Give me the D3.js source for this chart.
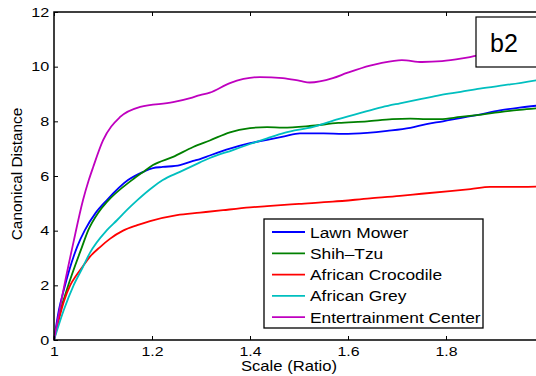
<!DOCTYPE html>
<html>
<head>
<meta charset="utf-8">
<script src="https://cdn.jsdelivr.net/npm/d3@7"></script>
<style>
  body { margin: 0; background: #fff; }
  svg { display: block; }
  text { font-family: "Liberation Sans", Arial, Helvetica, sans-serif; fill: #000; }
</style>
</head>
<body>
<svg id="chart" width="536" height="376"></svg>
<script>
// series names + matlab-ish colours
const seriesNames = ['Lawn Mower', 'Shih\u2013Tzu', 'African Crocodile', 'African Grey', 'Entertrainment Center'];
const seriesColors = ['#0000ff', '#008000', '#ff0000', '#00bfbf', '#bf00bf'];

const xTicks = [1, 1.2, 1.4, 1.6, 1.8];
const yTicks = [0, 2, 4, 6, 8, 10, 12];

// [scale ratio, canonical distance]
const lawnMower = [
  [1, 0], [1.01, 1.1], [1.02, 1.83], [1.047, 3.4], [1.063, 4.02], [1.085, 4.65], [1.108, 5.12],
  [1.151, 5.85], [1.182, 6.15], [1.202, 6.29], [1.222, 6.33], [1.257, 6.4], [1.284, 6.55],
  [1.298, 6.62], [1.318, 6.75], [1.359, 7.0], [1.40, 7.2], [1.435, 7.32], [1.47, 7.45],
  [1.502, 7.56], [1.55, 7.56], [1.59, 7.54], [1.639, 7.58], [1.68, 7.65], [1.727, 7.76],
  [1.76, 7.9], [1.794, 8.0], [1.829, 8.12], [1.863, 8.23], [1.91, 8.4], [1.95, 8.5], [2.0, 8.6]
];
const shihTzu = [
  [1, 0], [1.012, 1.0], [1.026, 1.83], [1.057, 3.4], [1.07, 4.02], [1.09, 4.65], [1.108, 5.05],
  [1.159, 5.85], [1.182, 6.15], [1.202, 6.4], [1.243, 6.7], [1.284, 7.06], [1.318, 7.3],
  [1.359, 7.6], [1.40, 7.75], [1.435, 7.79], [1.467, 7.77], [1.522, 7.83], [1.58, 7.94],
  [1.639, 8.0], [1.69, 8.08], [1.727, 8.1], [1.76, 8.08], [1.788, 8.08], [1.829, 8.16],
  [1.863, 8.23], [1.91, 8.34], [1.95, 8.42], [2.0, 8.5]
];
const africanCrocodile = [
  [1, 0], [1.01, 0.75], [1.02, 1.4], [1.033, 2.0], [1.045, 2.35], [1.059, 2.7], [1.073, 3.04],
  [1.094, 3.4], [1.114, 3.7], [1.141, 4.0], [1.17, 4.2], [1.196, 4.35], [1.251, 4.57],
  [1.298, 4.66], [1.345, 4.75], [1.40, 4.85], [1.435, 4.9], [1.50, 4.98], [1.569, 5.06],
  [1.645, 5.18], [1.706, 5.27], [1.75, 5.35], [1.808, 5.45], [1.85, 5.52], [1.89, 5.6],
  [1.93, 5.6], [2.0, 5.62]
];
const africanGrey = [
  [1, 0], [1.02, 1.1], [1.04, 2.0], [1.059, 2.67], [1.073, 3.18], [1.108, 4.02], [1.129, 4.39],
  [1.149, 4.76], [1.169, 5.1], [1.202, 5.6], [1.222, 5.85], [1.257, 6.15], [1.298, 6.5],
  [1.318, 6.66], [1.365, 6.95], [1.40, 7.17], [1.435, 7.38], [1.47, 7.58],
  [1.529, 7.8], [1.58, 8.08], [1.624, 8.3], [1.645, 8.4], [1.67, 8.52], [1.706, 8.66],
  [1.75, 8.82], [1.788, 8.96], [1.83, 9.08], [1.869, 9.2], [1.931, 9.35], [2.0, 9.55]
];
const entertainmentCenter = [
  [1, 0], [1.02, 1.9], [1.04, 3.6], [1.059, 5.1], [1.071, 5.85], [1.08, 6.33], [1.10, 7.3],
  [1.135, 8.16], [1.176, 8.53], [1.243, 8.7], [1.278, 8.85], [1.298, 8.96], [1.318, 9.05],
  [1.359, 9.4], [1.42, 9.62], [1.467, 9.58], [1.502, 9.48], [1.522, 9.42], [1.569, 9.58],
  [1.598, 9.77], [1.645, 10.04], [1.667, 10.13], [1.71, 10.24], [1.751, 10.17], [1.792, 10.2],
  [1.833, 10.3], [1.863, 10.4], [1.90, 10.5], [1.95, 10.6], [2.0, 10.7]
];
const seriesData = [lawnMower, shihTzu, africanCrocodile, africanGrey, entertainmentCenter];

const svg = d3.select('#chart');
const margin = { top: 12, left: 54 };
const plotW = 490, plotH = 328; // right edge falls outside the window, like the source

const x = d3.scaleLinear().domain([1, 2]).range([margin.left, margin.left + plotW]);
const y = d3.scaleLinear().domain([0, 12]).range([margin.top + plotH, margin.top]);

// curves
const line = d3.line().x(d => x(d[0])).y(d => y(d[1])).curve(d3.curveMonotoneX);
svg.append('g').selectAll('path')
  .data(seriesData)
  .join('path')
  .attr('fill', 'none')
  .attr('stroke', (d, i) => seriesColors[i])
  .attr('stroke-width', 1.8)
  .attr('stroke-linejoin', 'round')
  .attr('d', line);

// axes, ticks point inward
const xAxis = svg.append('g')
  .attr('transform', `translate(0,${y(0)})`)
  .call(d3.axisBottom(x).tickValues(xTicks).tickSizeInner(-4).tickSizeOuter(0).tickPadding(7)
    .tickFormat(d3.format('')));
const xTop = svg.append('g')
  .attr('transform', `translate(0,${y(12)})`)
  .call(d3.axisTop(x).tickValues(xTicks).tickSizeInner(-4).tickSizeOuter(0).tickFormat(''));
const yAxis = svg.append('g')
  .attr('transform', `translate(${x(1)},0)`)
  .call(d3.axisLeft(y).tickValues(yTicks).tickSizeInner(-4).tickSizeOuter(0).tickPadding(4));

[xAxis, xTop, yAxis].forEach(g => {
  g.select('.domain').remove();
  g.selectAll('line').attr('stroke', '#000').attr('stroke-width', 1);
});
xAxis.selectAll('text').attr('font-size', 13).attr('transform', 'scale(1.22,1)')
  .attr('font-family', '"Liberation Sans", Arial, sans-serif');
yAxis.selectAll('text').attr('font-size', 13.5).attr('transform', 'scale(1.2,1)')
  .attr('font-family', '"Liberation Sans", Arial, sans-serif');

// plot frame
svg.append('path')
  .attr('d', `M${x(2) + 2},${y(12)}H${x(1)}V${y(0)}H${x(2) + 2}`)
  .attr('fill', 'none').attr('stroke', '#000').attr('stroke-width', 1.5);

// axis titles
svg.append('text')
  .attr('transform', `translate(289,371) scale(1.19,1)`)
  .attr('text-anchor', 'middle').attr('font-size', 14)
  .text('Scale (Ratio)');
svg.append('text')
  .attr('transform', `translate(21.5,174) rotate(-90) scale(1.1,1)`)
  .attr('text-anchor', 'middle').attr('font-size', 14)
  .text('Canonical Distance');

// legend
const legend = svg.append('g');
legend.append('rect')
  .attr('x', 264).attr('y', 219).attr('width', 219).attr('height', 109)
  .attr('fill', '#fff').attr('stroke', '#000').attr('stroke-width', 1.3);
const rows = legend.selectAll('g.row')
  .data(seriesNames)
  .join('g')
  .attr('class', 'row')
  .attr('transform', (d, i) => `translate(0,${232 + i * 21.3})`);
rows.append('line')
  .attr('x1', 272).attr('x2', 305)
  .attr('stroke', (d, i) => seriesColors[i]).attr('stroke-width', 1.8);
rows.append('text')
  .attr('transform', 'translate(310,5.5) scale(1.12,1)')
  .attr('font-size', 15.5)
  .text(d => d);

// panel tag
svg.append('rect')
  .attr('x', 476).attr('y', 17).attr('width', 80).attr('height', 50)
  .attr('fill', '#fff').attr('stroke', '#000').attr('stroke-width', 1.2);
svg.append('text')
  .attr('x', 490).attr('y', 52)
  .attr('font-family', '"DejaVu Sans", sans-serif').attr('font-size', 25)
  .text('b2');
</script>
</body>
</html>
